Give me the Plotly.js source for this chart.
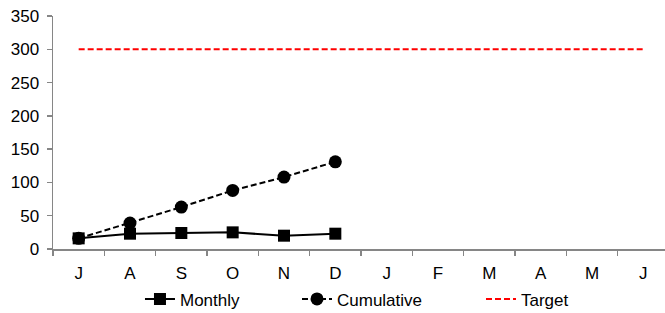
<!DOCTYPE html>
<html><head><meta charset="utf-8">
<script src="https://cdn.plot.ly/plotly-3.0.1.min.js"></script>
<style>html,body{margin:0;padding:0;overflow:hidden;background:#fff}</style>
</head><body><div id="chart"></div>
<script>
const monthKeys = ["Jul","Aug","Sep","Oct","Nov","Dec","Jan","Feb","Mar","Apr","May","Jun"];
const monthLabels = ["J","A","S","O","N","D","J","F","M","A","M","J"];
const monthly = [16, 23, 24, 25, 20, 23];
const cumulative = [16, 39, 63, 88, 108, 131];
const target = [300,300,300,300,300,300,300,300,300,300,300,300];

const font = {family:"Liberation Sans, Arial, sans-serif", size:17, color:"#000"};
const axisGray = "#868686";

const traces = [
  {x: monthKeys.slice(0, monthly.length), y: monthly, name:"Monthly", type:"scatter", mode:"lines+markers",
   line:{color:"#000", width:2}, marker:{symbol:"square", size:12, color:"#000"}, legend:"legend"},
  {x: monthKeys.slice(0, cumulative.length), y: cumulative, name:"Cumulative", type:"scatter", mode:"lines+markers",
   line:{color:"#000", width:2, dash:"6px,3px"}, marker:{symbol:"circle", size:13, color:"#000"}, legend:"legend2"},
  {x: monthKeys, y: target, name:"Target", type:"scatter", mode:"lines",
   line:{color:"#ff0000", width:2, dash:"6px,3px"}, legend:"legend3"}
];

function leg(x) {
  return {orientation:"h", x:x, xanchor:"left", y:-0.2163, yanchor:"middle", font:font,
    bgcolor:"rgba(0,0,0,0)", borderwidth:0};
}

const layout = {
  width:669, height:313,
  margin:{l:53, r:0, t:16, b:63.5, pad:0, autoexpand:false},
  paper_bgcolor:"#fff", plot_bgcolor:"#fff",
  font: font,
  showlegend:true,
  legend: leg(0.1412),
  legend2: leg(0.3961),
  legend3: leg(0.6948),
  xaxis:{type:"category", categoryorder:"array", categoryarray:monthKeys,
    tickmode:"array", tickvals:monthKeys, ticktext:monthLabels,
    range:[-0.5, 11.5], tickson:"boundaries", ticks:"outside", ticklen:5, tickcolor:axisGray, tickwidth:1.5,
    ticklabelstandoff:8, automargin:false,
    showline:true, linecolor:axisGray, linewidth:1.5, showgrid:false, zeroline:false, fixedrange:true,
    tickfont:font},
  yaxis:{range:[0,350], tickvals:[0,50,100,150,200,250,300,350], ticks:"outside", ticklen:5,
    ticklabelstandoff:4, automargin:false,
    tickcolor:axisGray, tickwidth:1.5, showline:true, linecolor:axisGray, linewidth:1.5,
    showgrid:false, zeroline:false, tickfont:font, fixedrange:true}
};
Plotly.newPlot("chart", traces, layout, {displayModeBar:false, staticPlot:true});
</script></body></html>
